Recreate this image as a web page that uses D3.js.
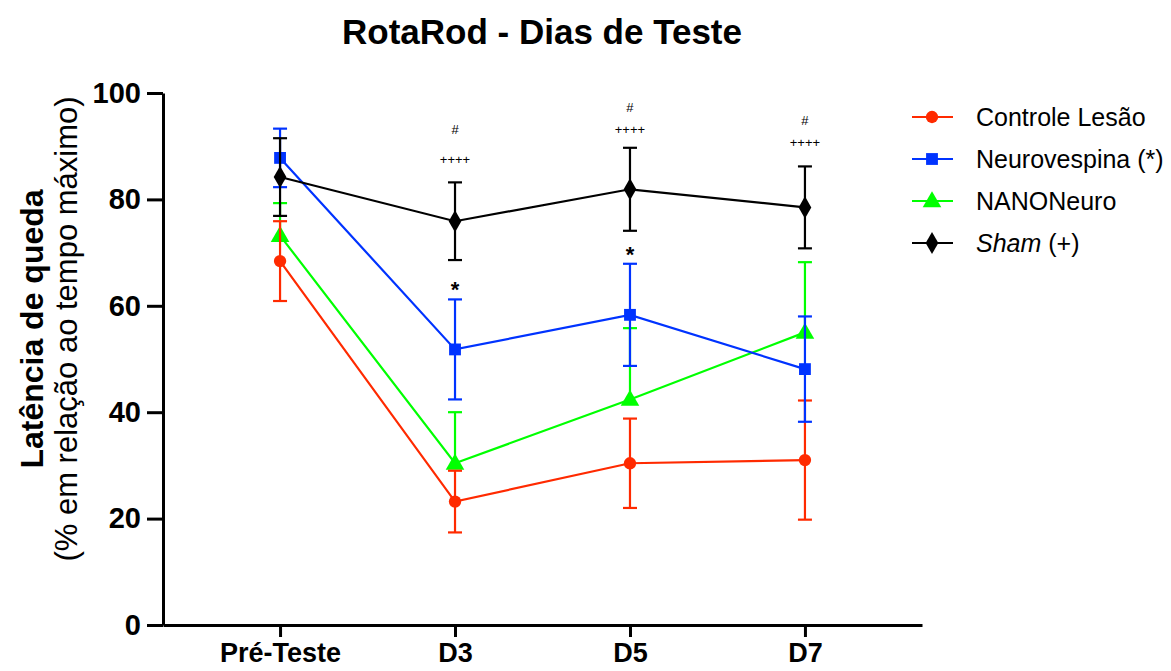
<!DOCTYPE html>
<html>
<head>
<meta charset="utf-8">
<script src="https://cdn.jsdelivr.net/npm/d3@7"></script>
<style>
  html, body { margin: 0; padding: 0; background: #fff; }
  svg { display: block; font-family: "Liberation Sans", Arial, Helvetica, sans-serif; }
</style>
</head>
<body>
<svg id="chart" width="1171" height="671"></svg>
<script>
// ---- data ----
const categories = ["Pré-Teste", "D3", "D5", "D7"];
const yTicks = [0, 20, 40, 60, 80, 100];
const seriesNames = ["Controle Lesão", "Neurovespina (*)", "NANONeuro", "Sham (+)"];
const controleMean = [68.4, 23.2, 30.4, 31.0];
const controleErr  = [7.5, 5.8, 8.4, 11.2];
const neuroMean    = [87.8, 51.8, 58.3, 48.1];
const neuroErr     = [5.5, 9.4, 9.6, 9.9];
const nanoMean     = [73.2, 30.4, 42.4, 55.0];
const nanoErr      = [6.1, 9.6, 13.4, 13.2];
const shamMean     = [84.2, 75.9, 81.9, 78.5];
const shamErr      = [7.3, 7.3, 7.8, 7.7];
const hashMarks    = ["", "#", "#", "#"];
const hashLevel    = [null, 93.0, 97.2, 94.7];
const plusMarks    = ["", "++++", "++++", "++++"];
const plusLevel    = [null, 87.4, 93.0, 90.6];
const starMarks    = ["", "*", "*", ""];

const series = [
  { name: seriesNames[2], mean: nanoMean, err: nanoErr, color: "#00ff00", symbol: d3.symbolTriangle, size: 150, upOnly: true },
  { name: seriesNames[0], mean: controleMean, err: controleErr, color: "#ff2a00", symbol: d3.symbolCircle, size: 120, upOnly: false },
  { name: seriesNames[1], mean: neuroMean, err: neuroErr, color: "#0033ff", symbol: d3.symbolSquare, size: 140, upOnly: false },
  { name: seriesNames[3], mean: shamMean, err: shamErr, color: "#000000", symbol: d3.symbolDiamond, size: 140, upOnly: false }
];
const legendOrder = [1, 2, 0, 3];

const svg = d3.select("#chart");

const x = d3.scalePoint().domain(categories).range([163, 922]).padding(0.669);
const y = d3.scaleLinear().domain([0, 100]).range([625, 93]);

// title
svg.append("text").attr("x", 542).attr("y", 44).attr("text-anchor", "middle")
  .attr("font-size", 35).attr("font-weight", "bold").text("RotaRod - Dias de Teste");

// y axis
const yAxis = svg.append("g").attr("transform", "translate(163,0)")
  .call(d3.axisLeft(y).tickValues(yTicks).tickSize(16).tickSizeOuter(0).tickPadding(6));
yAxis.select(".domain").attr("stroke-width", 3);
yAxis.selectAll(".tick line").attr("stroke-width", 3);
yAxis.selectAll(".tick text").attr("font-size", 29).attr("font-weight", "bold")
  .attr("font-family", "Liberation Sans, Arial, sans-serif").attr("fill", "#000");

// x axis
const xAxis = svg.append("g").attr("transform", "translate(0,625)")
  .call(d3.axisBottom(x).tickSize(12).tickSizeOuter(0).tickPadding(6));
xAxis.select(".domain").attr("stroke-width", 3);
xAxis.selectAll(".tick line").attr("stroke-width", 3);
xAxis.selectAll(".tick text").attr("font-size", 27).attr("font-weight", "bold")
  .attr("font-family", "Liberation Sans, Arial, sans-serif").attr("fill", "#000");

// y label
const yl = svg.append("text").attr("transform", "translate(43,329) rotate(-90)")
  .attr("text-anchor", "middle");
yl.append("tspan").attr("x", 0).attr("y", 0).attr("font-size", 32).attr("font-weight", "bold")
  .text("Latência de queda");
yl.append("tspan").attr("x", 0).attr("y", 34).attr("font-size", 31)
  .text("(% em relação ao tempo máximo)");

// series
const line = d3.line().x((d, i) => x(categories[i])).y(d => y(d));
const cap = 7;
series.forEach(s => {
  const g = svg.append("g");
  g.append("path").datum(s.mean).attr("d", line).attr("fill", "none")
    .attr("stroke", s.color).attr("stroke-width", 2.2);
  s.mean.forEach((m, i) => {
    const cx = x(categories[i]);
    const top = y(m + s.err[i]);
    const bot = s.upOnly ? y(m) : y(m - s.err[i]);
    g.append("line").attr("x1", cx).attr("x2", cx).attr("y1", top).attr("y2", bot)
      .attr("stroke", s.color).attr("stroke-width", 2.2);
    g.append("line").attr("x1", cx - cap).attr("x2", cx + cap).attr("y1", top).attr("y2", top)
      .attr("stroke", s.color).attr("stroke-width", 2.2);
    if (!s.upOnly) {
      g.append("line").attr("x1", cx - cap).attr("x2", cx + cap).attr("y1", bot).attr("y2", bot)
        .attr("stroke", s.color).attr("stroke-width", 2.2);
    }
  });
  g.selectAll("path.mk").data(s.mean).join("path").attr("class", "mk")
    .attr("transform", (d, i) => `translate(${x(categories[i])},${y(d) + (s.symbol === d3.symbolTriangle ? 1 : 0)})`)
    .attr("d", d3.symbol().type(s.symbol).size(s.size)).attr("fill", s.color);
});

// significance marks
categories.forEach((c, i) => {
  const cx = x(c);
  if (plusMarks[i]) svg.append("text").attr("x", cx).attr("y", y(plusLevel[i]) + 4).attr("text-anchor", "middle")
    .attr("font-size", 13).text(plusMarks[i]);
  if (hashMarks[i]) svg.append("text").attr("x", cx).attr("y", y(hashLevel[i]) + 4).attr("text-anchor", "middle")
    .attr("font-size", 13).text(hashMarks[i]);
  const nTop = y(neuroMean[i] + neuroErr[i]);
  if (starMarks[i]) svg.append("text").attr("x", cx).attr("y", nTop - 2).attr("text-anchor", "middle")
    .attr("font-size", 22).attr("font-weight", "bold").text(starMarks[i]);
});

// legend
legendOrder.forEach((si, k) => {
  const s = series[si];
  const ly = 117 + k * 42;
  const g = svg.append("g").attr("transform", `translate(0,${ly})`);
  g.append("line").attr("x1", 912).attr("x2", 953).attr("y1", 0).attr("y2", 0)
    .attr("stroke", s.color).attr("stroke-width", 2.2);
  g.append("path").attr("transform", `translate(932,${s.symbol === d3.symbolTriangle ? 1 : 0})`)
    .attr("d", d3.symbol().type(s.symbol).size(s.size)).attr("fill", s.color);
  const t = g.append("text").attr("x", 976).attr("y", 9).attr("font-size", 25);
  if (s.name === "Sham (+)") {
    t.append("tspan").attr("font-style", "italic").text("Sham");
    t.append("tspan").text(" (+)");
  } else {
    t.text(s.name);
  }
});
</script>
</body>
</html>
